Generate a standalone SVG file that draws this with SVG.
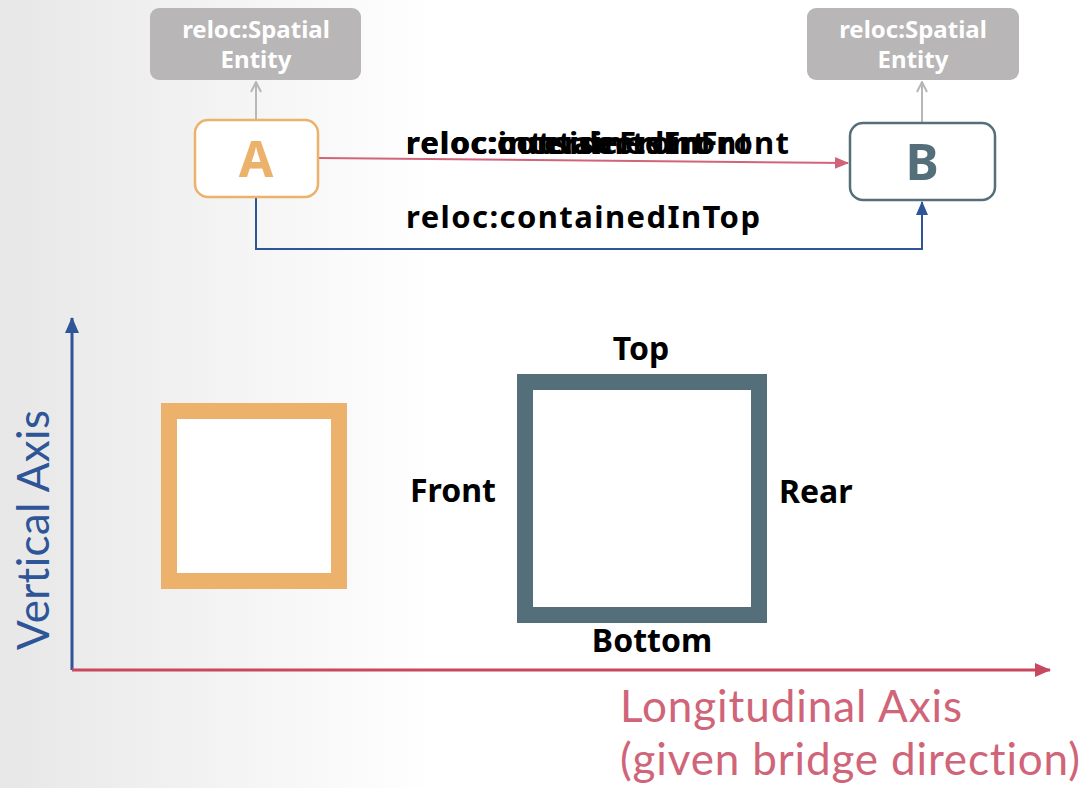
<svg xmlns="http://www.w3.org/2000/svg" width="1086" height="788" viewBox="0 0 1086 788">
<defs>
<linearGradient id="bg" x1="0" y1="0" x2="1" y2="0">
<stop offset="0" stop-color="#e7e7e7"/>
<stop offset="0.4" stop-color="#ffffff"/>
<stop offset="1" stop-color="#ffffff"/>
</linearGradient>
<marker id="open" viewBox="0 0 12 12" refX="11" refY="6" markerWidth="12" markerHeight="12" markerUnits="userSpaceOnUse" orient="auto">
<path d="M1,1 L11,6 L1,11" fill="none" stroke="#b8b6b6" stroke-width="2"/>
</marker>
<marker id="redhead" viewBox="0 0 14 14" refX="13" refY="7" markerWidth="14" markerHeight="14" markerUnits="userSpaceOnUse" orient="auto">
<path d="M0,1 L14,7 L0,13 Z" fill="#d06478"/>
</marker>
<marker id="bluehead" viewBox="0 0 14 14" refX="13" refY="7" markerWidth="14" markerHeight="14" markerUnits="userSpaceOnUse" orient="auto">
<path d="M0,1 L14,7 L0,13 Z" fill="#2e5597"/>
</marker>
<marker id="axblue" viewBox="0 0 16 16" refX="15" refY="8" markerWidth="16" markerHeight="16" markerUnits="userSpaceOnUse" orient="auto">
<path d="M0,1 L16,8 L0,15 Z" fill="#2e5597"/>
</marker>
<marker id="axred" viewBox="0 0 16 16" refX="15" refY="8" markerWidth="16" markerHeight="16" markerUnits="userSpaceOnUse" orient="auto">
<path d="M0,1 L16,8 L0,15 Z" fill="#c8485f"/>
</marker>
</defs>
<style>
.b{font-family:"Noto Sans","Open Sans","Liberation Sans",sans-serif;font-weight:bold}
.gray rect{fill:#b8b6b6}
.gray text{fill:#ffffff;font-size:24px;text-anchor:middle}
.lbl{font-size:31px;fill:#000}
.side{font-size:32px;fill:#000}
.ax{font-family:"Lato","Noto Sans","Liberation Sans",sans-serif;font-weight:normal;font-variant-ligatures:none;font-size:44px}
</style>
<rect x="0" y="0" width="1086" height="788" fill="url(#bg)"/>

<g id="connectors" fill="none">
<line x1="256" y1="120" x2="256" y2="82" stroke="#b8b6b6" stroke-width="2" marker-end="url(#open)"/>
<line x1="922" y1="122" x2="922" y2="82" stroke="#b8b6b6" stroke-width="2" marker-end="url(#open)"/>
<line x1="318" y1="158" x2="848" y2="163" stroke="#d06478" stroke-width="2" marker-end="url(#redhead)"/>
<polyline points="256,197 256,249 922,249 922,202" stroke="#2e5597" stroke-width="2" marker-end="url(#bluehead)"/>
<text class="b lbl" x="406" y="154" textLength="300" lengthAdjust="spacing">reloc:outsideFront</text>
<text class="b lbl" x="406" y="154" textLength="345" lengthAdjust="spacing">reloc:intersectsFront</text>
<text class="b lbl" x="406" y="154" textLength="383" lengthAdjust="spacing">reloc:containedInFront</text>
<text class="b lbl" x="406" y="228" textLength="354" lengthAdjust="spacing">reloc:containedInTop</text>
</g>

<g id="spatial-entity-a" class="gray">
<rect x="150" y="8" width="211" height="72" rx="9"/>
<text class="b" x="256" y="38">reloc:Spatial</text>
<text class="b" x="256" y="68">Entity</text>
</g>
<g id="spatial-entity-b" class="gray">
<rect x="807" y="8" width="212" height="72" rx="9"/>
<text class="b" x="913" y="38">reloc:Spatial</text>
<text class="b" x="913" y="68">Entity</text>
</g>

<g id="node-a">
<rect x="195" y="120" width="123" height="77" rx="13" fill="#fff" stroke="#ecb16a" stroke-width="2.5"/>
<text class="b" x="256" y="177" font-size="50" fill="#ecb16a" text-anchor="middle">A</text>
</g>
<g id="node-b">
<rect x="850" y="123" width="145" height="77" rx="13" fill="#fff" stroke="#546e7a" stroke-width="2.5"/>
<text class="b" x="922" y="180" font-size="50" fill="#546e7a" text-anchor="middle">B</text>
</g>

<g id="axes">
<line x1="72" y1="670" x2="72" y2="318" stroke="#2e5597" stroke-width="3" marker-end="url(#axblue)"/>
<line x1="72" y1="670" x2="1050" y2="670" stroke="#c8485f" stroke-width="3" marker-end="url(#axred)"/>
<text class="ax" transform="translate(49,650) rotate(-90)" fill="#2e5597" textLength="240" lengthAdjust="spacing">Vertical Axis</text>
<text class="ax" x="620" y="722" fill="#d06478" textLength="342" lengthAdjust="spacing">Longitudinal Axis</text>
<text class="ax" x="620" y="775" fill="#d06478" textLength="460" lengthAdjust="spacing">(given bridge direction)</text>
</g>

<g id="box-a">
<rect x="169" y="411" width="170" height="170" fill="#fff" stroke="#ecb16a" stroke-width="16"/>
</g>
<g id="box-b">
<rect x="525" y="382" width="234" height="233" fill="#fff" stroke="#546e7a" stroke-width="16"/>
<text class="b side" x="641" y="360" text-anchor="middle">Top</text>
<text class="b side" x="652" y="652" text-anchor="middle">Bottom</text>
<text class="b side" x="410" y="502">Front</text>
<text class="b side" x="779" y="503">Rear</text>
</g>
</svg>
